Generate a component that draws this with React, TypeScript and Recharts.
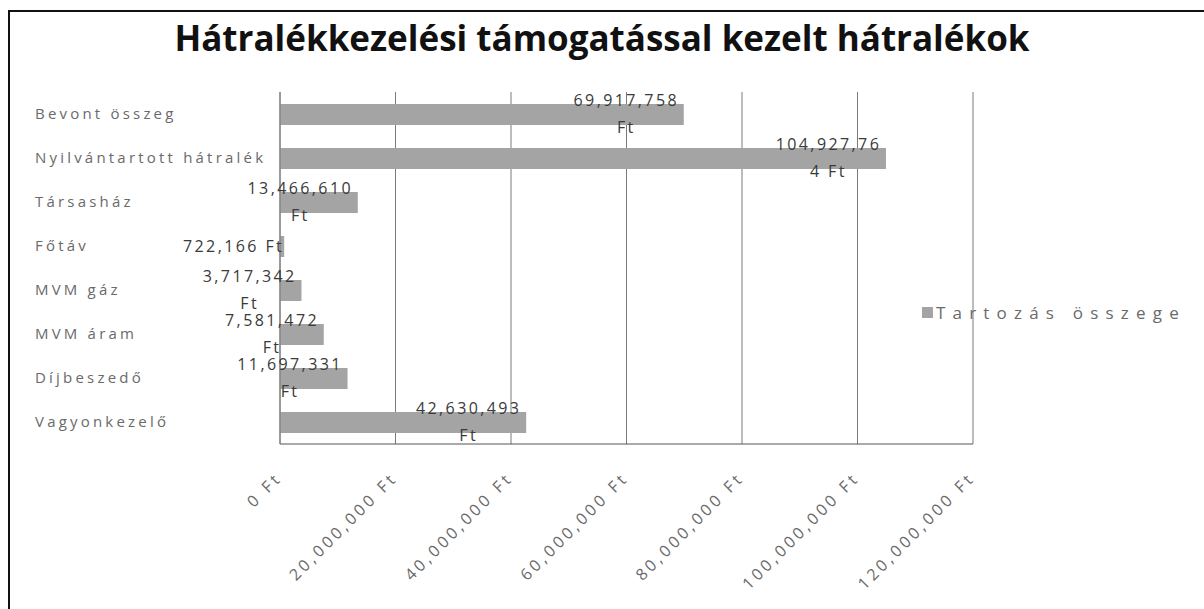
import React from 'react';
import { BarChart, Bar, XAxis, YAxis, CartesianGrid, LabelList } from 'recharts';

const categories = ['Bevont összeg', 'Nyilvántartott hátralék', 'Társasház', 'Főtáv', 'MVM gáz', 'MVM áram', 'Díjbeszedő', 'Vagyonkezelő'];
const values = [69917758, 104927764, 13466610, 722166, 3717342, 7581472, 11697331, 42630493];
const xTicks = [0, 20000000, 40000000, 60000000, 80000000, 100000000, 120000000];
const seriesName = 'Tartozás összege';
const title = 'Hátralékkezelési támogatással kezelt hátralékok';

const data = categories.map((c, i) => ({ name: c, value: values[i] }));

const FONT = '"Open Sans", "DejaVu Sans", sans-serif';
const fmt = (v: number) => v.toLocaleString('en-US') + ' Ft';

const YTick = (props: any) => {
  const { y, payload } = props;
  return (
    <text x={35} y={y} dy={5} textAnchor="start" fontFamily={FONT} fontSize={15} letterSpacing={3.2} fill="#6a6a6a">
      {payload.value}
    </text>
  );
};

const XTick = (props: any) => {
  const { x, y, payload } = props;
  const tx = x + 3;
  const ty = y + 27;
  return (
    <text x={tx} y={ty} textAnchor="end" transform={`rotate(-45, ${tx}, ${ty})`} fontFamily={FONT} fontSize={16} letterSpacing={3.5} fill="#6a6a6a">
      {fmt(payload.value)}
    </text>
  );
};

const ValueLabel = (props: any) => {
  const { x, y, width, height, value } = props;
  const num = Number(value).toLocaleString('en-US');
  const full = num + ' Ft';
  const right = x + width;
  const cy = y + height / 2;
  const charW = 11.5;
  if (full.length <= 10) {
    return (
      <text x={right} y={cy} dy={5} textAnchor="end" fontFamily={FONT} fontSize={16} letterSpacing={2.4} fill="#3a3a3a">
        {full}
      </text>
    );
  }
  let l1 = num;
  let l2 = 'Ft';
  if (num.length > 10) {
    l1 = num.slice(0, 10);
    l2 = num.slice(10) + ' Ft';
  }
  const w = l1.length * charW;
  const cx = right - w / 2;
  return (
    <g fontFamily={FONT} fontSize={16} letterSpacing={2.4} fill="#3a3a3a">
      <text x={cx} y={cy - 14} dy={5} textAnchor="middle">{l1}</text>
      <text x={cx} y={cy + 13} dy={5} textAnchor="middle">{l2}</text>
    </g>
  );
};

export default function App() {
  return (
    <div style={{ position: 'absolute', left: 0, top: 0, width: 1204, height: 609, background: '#fff' }}>
      <div style={{ position: 'absolute', left: 8, top: 10, width: 1196, height: 599, borderTop: '2px solid #111', borderLeft: '2px solid #111', boxSizing: 'border-box' }} />
      <div style={{ position: 'absolute', left: 0, top: 14, width: 1204, textAlign: 'center', fontFamily: FONT, fontWeight: 700, fontSize: 35, color: '#111', lineHeight: '48px' }}>
        {title}
      </div>
      <BarChart
        width={1204}
        height={609}
        data={data}
        layout="vertical"
        margin={{ top: 92, right: 231, bottom: 0, left: 0 }}
        barSize={21}
        style={{ position: 'absolute', left: 0, top: 0 }}
      >
        <CartesianGrid horizontal={false} vertical={true} stroke="#7a7a7a" />
        <XAxis
          type="number"
          domain={[0, 120000000]}
          ticks={xTicks}
          interval={0}
          tick={<XTick />}
          tickLine={false}
          axisLine={{ stroke: '#555' }}
          height={165}
        />
        <YAxis
          type="category"
          dataKey="name"
          width={280}
          tick={<YTick />}
          tickLine={false}
          axisLine={{ stroke: '#777' }}
          interval={0}
        />
        <Bar dataKey="value" name={seriesName} fill="#a4a4a4" isAnimationActive={false}>
          <LabelList dataKey="value" content={<ValueLabel />} />
        </Bar>
      </BarChart>
      <div style={{ position: 'absolute', left: 922, top: 301, display: 'flex', alignItems: 'center', fontFamily: FONT, fontSize: 17, letterSpacing: 7.2, color: '#6a6a6a', whiteSpace: 'nowrap' }}>
        <span style={{ display: 'inline-block', width: 11, height: 11, background: '#a4a4a4', marginRight: 3 }} />
        <span>{seriesName}</span>
      </div>
    </div>
  );
}
